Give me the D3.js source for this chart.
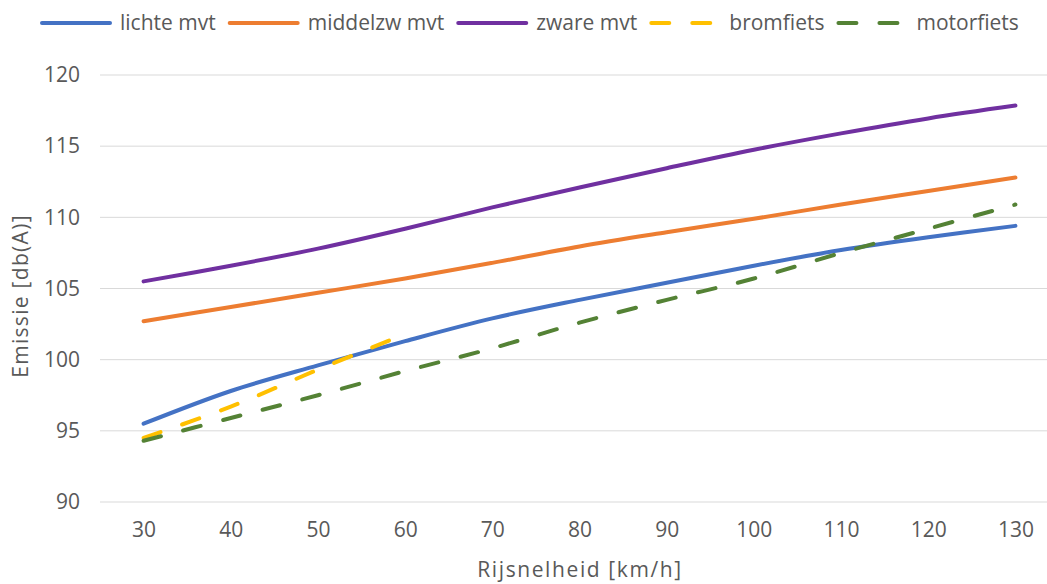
<!DOCTYPE html>
<html>
<head>
<meta charset="utf-8">
<script src="https://cdn.jsdelivr.net/npm/d3@7"></script>
<style>
  body { margin: 0; background: #fff; }
  text { font-family: "Open Sans", sans-serif; fill: #595959; }
</style>
</head>
<body>
<svg id="chart" width="1047" height="584"></svg>
<script>
// snelheden (categorieen op de x-as)
var speeds = [30, 40, 50, 60, 70, 80, 90, 100, 110, 120, 130];

// emissie per voertuigcategorie, dB(A)
var lichte     = [95.5, 97.8, 99.6, 101.3, 102.9, 104.2, 105.4, 106.6, 107.7, 108.6, 109.4];
var middelzw   = [102.7, 103.7, 104.7, 105.7, 106.8, 107.95, 108.95, 109.9, 110.9, 111.85, 112.8];
var zware      = [105.5, 106.6, 107.8, 109.2, 110.7, 112.1, 113.45, 114.75, 115.9, 116.95, 117.85];
var bromfiets  = [94.5, 96.7, 99.3, 101.8, null, null, null, null, null, null, null];
var motorfiets = [94.3, 95.9, 97.5, 99.2, 100.8, 102.6, 104.2, 105.7, 107.5, 109.2, 110.9];

var yTicks = [90, 95, 100, 105, 110, 115, 120];

var series = [
  { name: "lichte mvt",   values: lichte,     color: "#4472C4", dash: null },
  { name: "middelzw mvt", values: middelzw,   color: "#ED7D31", dash: null },
  { name: "zware mvt",    values: zware,      color: "#7030A0", dash: null },
  { name: "bromfiets",    values: bromfiets,  color: "#FFC000", dash: "18,23" },
  { name: "motorfiets",   values: motorfiets, color: "#548235", dash: "18,23" }
];

var svg = d3.select("#chart");

var x = d3.scalePoint()
  .domain(speeds)
  .range([100, 1059])
  .padding(0.5);

var y = d3.scaleLinear()
  .domain([90, 120])
  .range([502, 75]);

// gridlines
svg.append("g")
  .selectAll("line")
  .data(yTicks)
  .enter()
  .append("line")
  .attr("x1", 100)
  .attr("x2", 1059)
  .attr("y1", function(d) { return y(d); })
  .attr("y2", function(d) { return y(d); })
  .attr("stroke", "#d9d9d9")
  .attr("stroke-width", 1);

// y axis labels
var yAxis = svg.append("g")
  .attr("transform", "translate(100,0)")
  .call(d3.axisLeft(y).tickValues(yTicks).tickSize(0).tickPadding(20));
yAxis.select(".domain").remove();
yAxis.selectAll("text")
  .attr("font-size", 21)
  .attr("font-family", null)
  .attr("fill", null);

// x axis labels
var xAxis = svg.append("g")
  .attr("transform", "translate(0,502)")
  .call(d3.axisBottom(x).tickSize(0).tickPadding(20));
xAxis.select(".domain").remove();
xAxis.selectAll("text")
  .attr("font-size", 21)
  .attr("font-family", null)
  .attr("fill", null);

// axis titles
svg.append("text")
  .attr("x", 580)
  .attr("y", 577)
  .attr("text-anchor", "middle")
  .attr("font-size", 21)
  .style("letter-spacing", "1.6px")
  .text("Rijsnelheid [km/h]");

svg.append("text")
  .attr("transform", "translate(28,296) rotate(-90)")
  .attr("text-anchor", "middle")
  .attr("font-size", 21)
  .style("letter-spacing", "1.3px")
  .text("Emissie [db(A)]");

// lines
var line = d3.line()
  .defined(function(d) { return d[1] != null; })
  .x(function(d) { return x(d[0]); })
  .y(function(d) { return y(d[1]); })
  .curve(d3.curveCardinal.tension(0));

svg.append("g")
  .selectAll("path")
  .data(series)
  .enter()
  .append("path")
  .attr("fill", "none")
  .attr("stroke", function(d) { return d.color; })
  .attr("stroke-width", 4)
  .attr("stroke-linecap", "round")
  .attr("stroke-dasharray", function(d) { return d.dash; })
  .attr("d", function(d) {
    return line(speeds.map(function(s, i) { return [s, d.values[i]]; }));
  });

// legend
var legend = svg.append("g");
var lx = 42;
series.forEach(function(s) {
  legend.append("line")
    .attr("x1", lx)
    .attr("x2", lx + 68)
    .attr("y1", 23)
    .attr("y2", 23)
    .attr("stroke", s.color)
    .attr("stroke-width", 4)
    .attr("stroke-linecap", "round")
    .attr("stroke-dasharray", s.dash);
  var t = legend.append("text")
    .attr("x", lx + 78)
    .attr("y", 30)
    .attr("font-size", 21)
    .text(s.name);
  lx += 78 + t.node().getComputedTextLength() + 14;
});
</script>
</body>
</html>
